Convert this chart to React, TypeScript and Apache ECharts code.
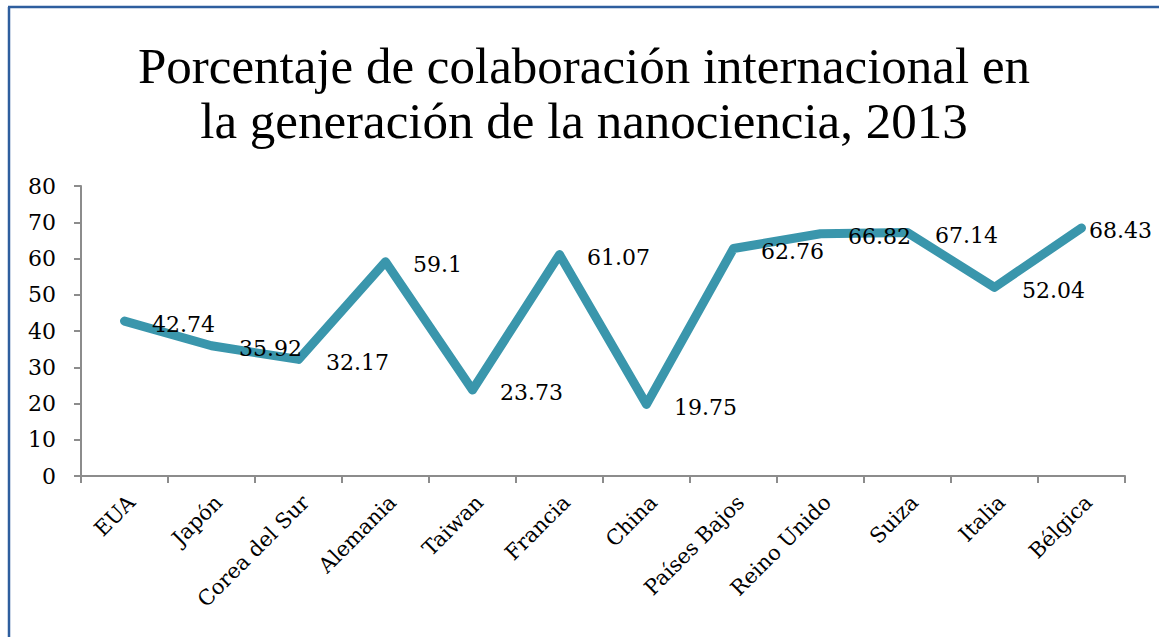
import React, { useEffect, useRef } from "react";
import * as echarts from "echarts";

const categories = [
  "EUA",
  "Japón",
  "Corea del Sur",
  "Alemania",
  "Taiwan",
  "Francia",
  "China",
  "Países Bajos",
  "Reino Unido",
  "Suiza",
  "Italia",
  "Bélgica",
];
const values = [42.74, 35.92, 32.17, 59.1, 23.73, 61.07, 19.75, 62.76, 66.82, 67.14, 52.04, 68.43];
const titleLines = [
  "Porcentaje de colaboración internacional en",
  "la generación de la nanociencia, 2013",
];
const yMin = 0;
const yMax = 80;
const yInterval = 10;

export default function App() {
  const ref = useRef<HTMLDivElement>(null);
  useEffect(() => {
    document.body.style.margin = "0";
    const chart = echarts.init(ref.current!, null, { renderer: "svg" });
    const serif = "DejaVu Serif";
    chart.setOption({
      animation: false,
      backgroundColor: "#ffffff",
      graphic: [
        {
          type: "line",
          shape: { x1: 9, y1: 7, x2: 9, y2: 637 },
          style: { stroke: "#2E5E9E", lineWidth: 2.5 },
        },
        {
          type: "line",
          shape: { x1: 8, y1: 7, x2: 1159, y2: 7 },
          style: { stroke: "#2E5E9E", lineWidth: 2.5 },
        },
        {
          type: "text",
          x: 584,
          y: 66,
          style: {
            text: titleLines[0],
            font: "51px 'Liberation Serif'",
            fill: "#000000",
            align: "center",
            verticalAlign: "middle",
          },
        },
        {
          type: "text",
          x: 584,
          y: 121,
          style: {
            text: titleLines[1],
            font: "51px 'Liberation Serif'",
            fill: "#000000",
            align: "center",
            verticalAlign: "middle",
          },
        },
      ],
      grid: { left: 81, right: 34, top: 186, bottom: 161, containLabel: false },
      xAxis: {
        type: "category",
        data: categories,
        boundaryGap: true,
        axisLine: { lineStyle: { color: "#8C8C8C", width: 2 } },
        axisTick: { show: true, length: 7, alignWithLabel: false, lineStyle: { color: "#8C8C8C", width: 2 } },
        axisLabel: {
          rotate: 45,
          interval: 0,
          margin: 30,
          fontFamily: serif,
          fontSize: 21,
          color: "#000000",
          padding: [0, -10, 0, 0],
        },
        splitLine: { show: false },
      },
      yAxis: {
        type: "value",
        min: yMin,
        max: yMax,
        interval: yInterval,
        axisLine: { show: true, lineStyle: { color: "#8C8C8C", width: 2 } },
        axisTick: { show: true, length: 7, lineStyle: { color: "#8C8C8C", width: 2 } },
        axisLabel: { margin: 25, fontFamily: serif, fontSize: 22, color: "#000000" },
        splitLine: { show: false },
      },
      series: [
        {
          type: "line",
          data: values.map((v, i) =>
            i === values.length - 1 ? { value: v, label: { distance: 7 } } : v
          ),
          symbol: "circle",
          symbolSize: 1,
          showSymbol: true,
          itemStyle: { color: "rgba(0,0,0,0)" },
          lineStyle: { color: "#3A96AC", width: 9, cap: "round", join: "round" },
          label: {
            show: true,
            position: "right",
            distance: 27,
            offset: [0, 3],
            fontFamily: serif,
            fontSize: 22,
            color: "#000000",
          },
          emphasis: { disabled: true },
        },
      ],
    });
    return () => chart.dispose();
  }, []);
  return <div ref={ref} style={{ width: 1159, height: 637, position: "absolute", left: 0, top: 0 }} />;
}
